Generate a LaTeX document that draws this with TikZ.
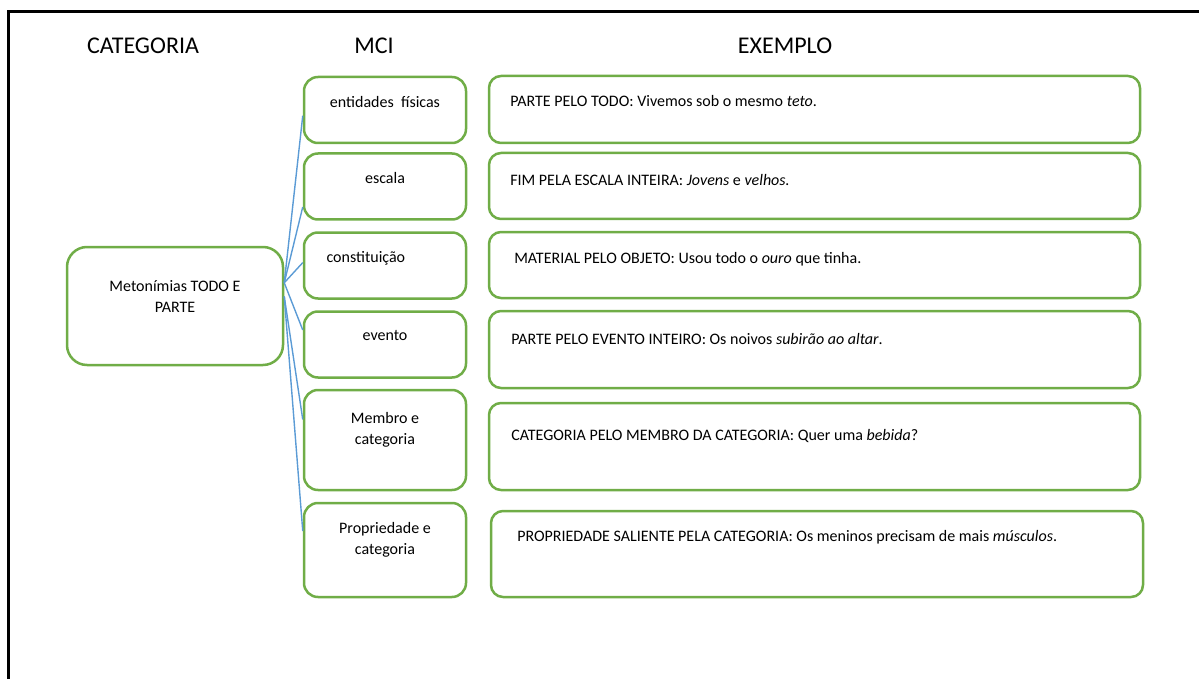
\documentclass[tikz,border=0pt]{standalone}
\usepackage{fontspec}
\setmainfont{Carlito}
\usetikzlibrary{positioning}

\definecolor{boxgreen}{HTML}{70AD47}
\definecolor{linkblue}{HTML}{5B9BD5}

\tikzset{
  greenbox/.style={draw=boxgreen, line width=2.5pt, rounded corners=14pt, fill=white},
  mcibox/.style={greenbox, minimum width=162pt, minimum height=66pt},
  exbox/.style={greenbox, rounded corners=12pt, minimum width=651pt, minimum height=67pt},
  link/.style={draw=linkblue, line width=1.4pt},
  heading/.style={font=\fontsize{24}{28}\selectfont},
  toptext/.style={anchor=north, yshift=-17pt, align=center, font=\fontsize{16}{21.5}\selectfont},
  extext/.style={anchor=north west, xshift=19pt, yshift=-17pt, font=\fontsize{16}{20}\selectfont},
}

\begin{document}
\begin{tikzpicture}[x=1pt, y=-1pt]
  \useasboundingbox (0,0) rectangle (1199,679);
  \draw[line width=3pt] (8,679) -- (8,12) -- (1199,12);

  % headings
  \node[heading] (hcat) at (143,46) {CATEGORIA};
  \node[heading] (hmci) at (374,46) {MCI};
  \node[heading] (hex)  at (785,46) {EXEMPLO};

  % category
  \node[greenbox, rounded corners=20pt, minimum width=216pt, minimum height=118pt,
    label={[toptext, yshift=-14pt]north:{Metonímias TODO E\\PARTE}}] (cat) at (175,306) {};

  % MCI column
  \node[mcibox, label={[toptext]north:entidades\ \ físicas}] (m1) at (385,110) {};
  \node[mcibox, label={[toptext]north:escala}] (m2) at (385,186.5) {};
  \node[mcibox, label={[toptext, anchor=north west, xshift=-62pt]north:constituição}] (m3) at (385,265.5) {};
  \node[mcibox, label={[toptext]north:evento}] (m4) at (385,344.5) {};
  \node[mcibox, minimum height=100pt, label={[toptext, yshift=-3pt]north:{Membro e\\categoria}}] (m5) at (385,440) {};
  \node[mcibox, minimum height=94pt, label={[toptext]north:{Propriedade e\\categoria}}] (m6) at (385,550) {};

  % example column
  \node[exbox, label={[extext]north west:PARTE PELO TODO: Vivemos sob o mesmo \textit{teto}.}] (e1) at (814.5,109.5) {};
  \node[exbox, minimum height=66pt, label={[extext, yshift=-2pt]north west:FIM PELA ESCALA INTEIRA: \textit{Jovens} e \textit{velhos.}}] (e2) at (814.5,186) {};
  \node[exbox, minimum height=66pt, label={[extext, xshift=4pt, yshift=-1pt]north west:MATERIAL PELO OBJETO: Usou todo o \textit{ouro} que tinha.}] (e3) at (814.5,265) {};
  \node[exbox, minimum height=77pt, label={[extext, xshift=1pt, yshift=-3pt]north west:PARTE PELO EVENTO INTEIRO: Os noivos \textit{subirão ao altar}.}] (e4) at (814.5,349.5) {};
  \node[exbox, minimum height=87pt, label={[extext, xshift=1pt, yshift=-7pt]north west:CATEGORIA PELO MEMBRO DA CATEGORIA: Quer uma \textit{bebida}?}] (e5) at (814.5,446.5) {};
  \node[exbox, minimum width=652pt, minimum height=86pt, label={[extext, xshift=5pt]north west:PROPRIEDADE SALIENTE PELA CATEGORIA: Os meninos precisam de mais \textit{músculos}.}] (e6) at (817,554) {};

  % links
  \draw[link] (cat.12) -- (m1.184);
  \draw[link] (cat.12) -- (m2.194);
  \draw[link] (cat.12) -- (m3.178);
  \draw[link] (cat.12) -- (m4.170);
  \draw[link] (cat.5) -- (m5.166);
  \draw[link] (cat.5) -- (m6.167);
\end{tikzpicture}
\end{document}
